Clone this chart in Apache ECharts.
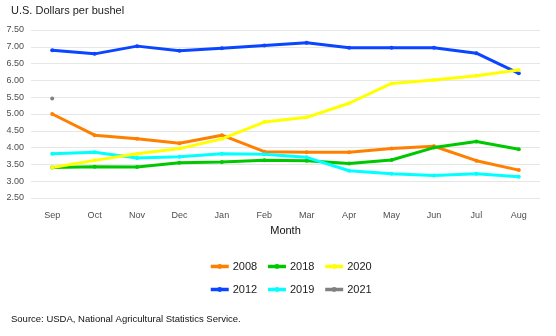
<!DOCTYPE html>
<html>
<head>
<meta charset="utf-8">
<script src="https://cdn.jsdelivr.net/npm/echarts@6/dist/echarts.min.js"></script>
<style>
  html, body { margin: 0; padding: 0; background: #fff; }
  #chart { width: 556px; height: 336px; }
</style>
</head>
<body>
<div id="chart"></div>
<script>
// Marketing-year months
const months = ['Sep', 'Oct', 'Nov', 'Dec', 'Jan', 'Feb', 'Mar', 'Apr', 'May', 'Jun', 'Jul', 'Aug'];

// Monthly prices received, U.S. dollars per bushel
const price2008 = [5.00, 4.37, 4.26, 4.13, 4.37, 3.88, 3.86, 3.86, 3.97, 4.04, 3.61, 3.33];
const price2012 = [6.90, 6.79, 7.02, 6.88, 6.96, 7.04, 7.12, 6.97, 6.97, 6.97, 6.81, 6.21];
const price2018 = [3.41, 3.43, 3.42, 3.55, 3.57, 3.62, 3.61, 3.53, 3.63, 4.00, 4.18, 3.95];
const price2019 = [3.82, 3.86, 3.69, 3.73, 3.82, 3.80, 3.71, 3.31, 3.22, 3.17, 3.22, 3.13];
const price2020 = [3.41, 3.62, 3.82, 3.97, 4.26, 4.76, 4.90, 5.32, 5.91, 6.01, 6.14, 6.31];
const price2021 = [5.46, null, null, null, null, null, null, null, null, null, null, null];

const yTicks = { min: 2.5, max: 7.5, step: 0.5 };

const seriesDefs = [
  { name: '2008', data: price2008, color: '#ff7f00' },
  { name: '2012', data: price2012, color: '#0a45ff' },
  { name: '2018', data: price2018, color: '#00c800' },
  { name: '2019', data: price2019, color: '#00ffff' },
  { name: '2020', data: price2020, color: '#ffff00' },
  { name: '2021', data: price2021, color: '#808080' }
];

const FONT = 'Liberation Sans, Arial, sans-serif';
const chart = echarts.init(document.getElementById('chart'), null, { renderer: 'canvas' });

const legendBase = {
  orient: 'horizontal',
  left: 204,
  itemWidth: 18,
  itemHeight: 6,
  itemGap: 9,
  textStyle: { fontFamily: FONT, fontSize: 11, color: '#1a1a1a', padding: [0, 0, 0, -1] },
  lineStyle: { width: 3.5 },
  selectedMode: false
};

chart.setOption({
  animation: false,
  backgroundColor: '#ffffff',
  title: [
    {
      text: 'U.S. Dollars per bushel',
      left: 6, top: 0,
      textStyle: { fontFamily: FONT, fontSize: 11, fontWeight: 'normal', color: '#222' }
    },
    {
      text: 'Source: USDA, National Agricultural Statistics Service.',
      left: 6, top: 309,
      textStyle: { fontFamily: FONT, fontSize: 9.5, fontWeight: 'normal', color: '#111' }
    }
  ],
  legend: [
    Object.assign({}, legendBase, { data: ['2008', '2018', '2020'], top: 256 }),
    Object.assign({}, legendBase, { data: ['2012', '2019', '2021'], top: 279 })
  ],
  grid: { left: 31, right: 16, top: 30, height: 168, containLabel: false },
  xAxis: {
    type: 'category',
    data: months,
    boundaryGap: true,
    name: 'Month',
    nameLocation: 'middle',
    nameGap: 27,
    nameTextStyle: { fontFamily: FONT, fontSize: 11, color: '#111' },
    axisLine: { show: false },
    axisTick: { show: false },
    axisLabel: { fontFamily: FONT, fontSize: 9, color: '#4d4d4d', margin: 13 },
    splitLine: { show: false }
  },
  yAxis: {
    type: 'value',
    min: yTicks.min,
    max: yTicks.max,
    interval: yTicks.step,
    axisLine: { show: false },
    axisTick: { show: false },
    axisLabel: {
      fontFamily: FONT, fontSize: 9, color: '#4d4d4d', margin: 7,
      formatter: v => v.toFixed(2)
    },
    splitLine: { lineStyle: { color: '#e6e6e6', width: 1 } }
  },
  series: seriesDefs.map(s => ({
    name: s.name,
    type: 'line',
    data: s.data,
    color: s.color,
    symbol: 'circle',
    symbolSize: 4,
    showSymbol: true,
    connectNulls: false,
    lineStyle: { width: 3, color: s.color },
    itemStyle: { color: s.color }
  }))
});
</script>
</body>
</html>
